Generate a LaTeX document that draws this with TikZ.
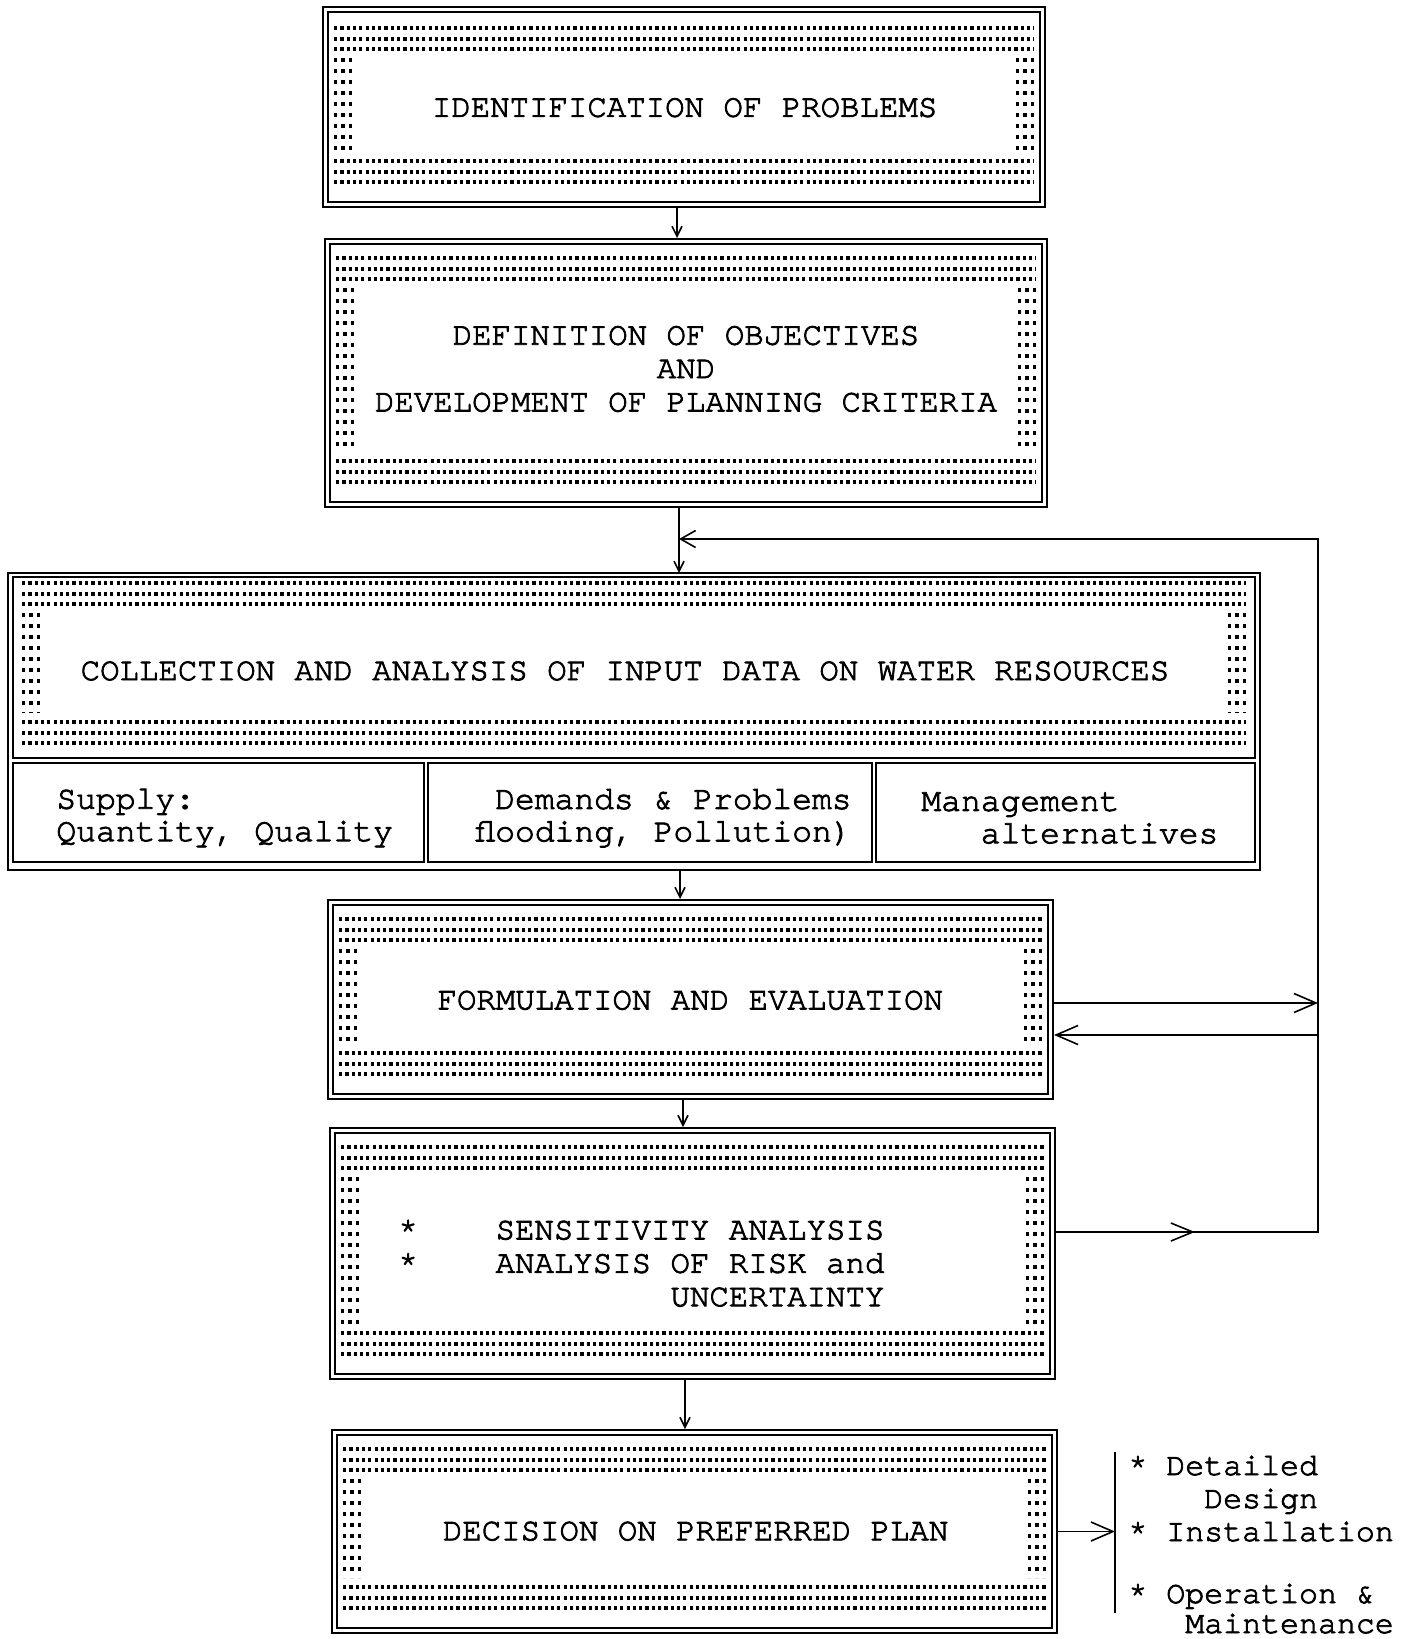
\documentclass[tikz,border=0pt]{standalone}
\usepackage{fontspec}
\newfontfamily\twfont{texgyrecursor}[Extension=.otf, UprightFont=*-regular, BoldFont=*-bold, FakeBold=2.5]
\usetikzlibrary{arrows.meta,calc,decorations.markings}

% three rows and three columns of typed dots lining the inside of a box
\newcommand\dotframe[4]{%
  \foreach \k in {0,1,2}{%
    \draw[dotrow] ($(#1.north west)+(#4,#2+10.5*\k)$) -- ($(#1.north east)+(-#4,#2+10.5*\k)$);
    \draw[dotrow] ($(#1.south west)+(#4,-#3-10.5*\k)$) -- ($(#1.south east)+(-#4,-#3-10.5*\k)$);
    \draw[dotcol] ($(#1.north west)+(#4+1.6+7.5*\k,#2+30)$) -- ($(#1.south west)+(#4+1.6+7.5*\k,-#3-30)$);
    \draw[dotcol] ($(#1.north east)+(-#4-1.6-7.5*\k,#2+30)$) -- ($(#1.south east)+(-#4-1.6-7.5*\k,-#3-30)$);
  }}

\begin{document}
\begin{tikzpicture}[x=0.5pt, y=-0.5pt,
  dbox/.style={draw, double, line width=0.9pt, double distance=1.6pt, outer sep=1.7pt, inner sep=0pt},
  sbox/.style={draw, line width=1pt, inner sep=0pt, outer sep=0pt},
  txt/.style={font=\twfont\fontsize{16.2}{16.7}\selectfont, inner sep=0pt},
  smalltxt/.style={font=\twfont\fontsize{16.5}{16.2}\selectfont, inner sep=0pt, align=left, anchor=west},
  sidetxt/.style={font=\twfont\fontsize{15.8}{16.5}\selectfont, inner sep=0pt, anchor=base west},
  dotrow/.style={line width=2pt, dash pattern=on 1.6pt off 1.55pt},
  dotcol/.style={line width=1.8pt, dash pattern=on 2pt off 3.5pt},
  conn/.style={line width=0.8pt},
  vdown/.style={conn, -{Straight Barb[length=5pt, width=5pt]}},
  fbarrow/.style={conn, -{Straight Barb[length=7.5pt, width=8.5pt]}},
  rarrow/.style={conn, -{Straight Barb[length=11pt, width=9.5pt]}},
]
\path[use as bounding box, fill=white] (0,0) rectangle (1410,1639);

% boxes
\node[dbox, minimum width=358.6pt, minimum height=97.6pt] (ident) at (684,107) {};
\node[dbox, minimum width=358.6pt, minimum height=131.6pt] (defin) at (686,373) {};
\node[sbox, minimum width=626pt, minimum height=148.5pt] (frame) at (634,721.5) {};
\node[sbox, minimum width=621pt, minimum height=90.5pt] (collect) at (634,667.5) {};
\node[sbox, minimum width=205.5pt, minimum height=49.5pt] (supply) at (218.5,812.5) {};
\node[sbox, minimum width=222pt, minimum height=49.5pt] (demand) at (650,812.5) {};
\node[sbox, minimum width=189.5pt, minimum height=49.5pt] (manage) at (1065.5,812.5) {};
\node[dbox, minimum width=360.1pt, minimum height=97.1pt] (form) at (690.5,999.5) {};
\node[dbox, minimum width=360.1pt, minimum height=123.1pt] (sens) at (692.5,1253.5) {};
\node[dbox, minimum width=360.1pt, minimum height=99.1pt] (dec) at (694.5,1531.5) {};

\dotframe{ident}{22}{26}{12}
\dotframe{defin}{20}{26}{12}
\dotframe{collect}{6}{15}{9}
\dotframe{form}{20}{26}{12}
\dotframe{sens}{20}{26}{12}
\dotframe{dec}{20}{26}{12}

% texts
\node[txt] (t-ident) at (684.6,107.7) {IDENTIFICATION OF PROBLEMS};
\node[txt, align=center] (t-defin) at (686,369) {DEFINITION OF OBJECTIVES\\AND\\DEVELOPMENT OF PLANNING CRITERIA};
\node[txt] (t-collect) at (625,671) {COLLECTION AND ANALYSIS OF INPUT DATA ON WATER RESOURCES};
\node[smalltxt] (t-supply) at (56,818) {Supply:\\Quantity, Quality};
\node[smalltxt] (t-demand) at (475,818) {\phantom{0}Demands \& Problems\\flooding, Pollution)};
\node[smalltxt] (t-manage) at (921,818) {Management\\\phantom{000}alternatives};
\node[txt] (t-form) at (690.3,1000.3) {FORMULATION AND EVALUATION};
\node[txt, align=left, anchor=west] (t-sens) at (398,1263) {*\phantom{0000}SENSITIVITY ANALYSIS\\*\phantom{0000}ANALYSIS OF RISK and\\\phantom{00000000000000}UNCERTAINTY};
\node[txt] (t-dec) at (695.6,1531.2) {DECISION ON PREFERRED PLAN};

% main chain
\coordinate (a1) at ($(ident.south)+(-7,0)$);
\draw[vdown] (a1) -- (a1 |- defin.north);
\coordinate (a2) at ($(defin.south)+(-7,0)$);
\draw[vdown] (a2) -- (a2 |- frame.north);
\coordinate (a3) at ($(frame.south)+(46,0)$);
\draw[vdown] (a3) -- (a3 |- form.north);
\coordinate (a4) at ($(form.south)+(-7.5,0)$);
\draw[vdown] (a4) -- (a4 |- sens.north);
\coordinate (a5) at ($(sens.south)+(-7.5,0)$);
\draw[vdown] (a5) -- (a5 |- dec.north);

% feedback loop on the right
\coordinate (fbtop) at (1318,539);
\coordinate (fbjoin) at (a2 |- fbtop);
\coordinate (s1) at ($(sens.east)+(0,-21.5)$);
\draw[fbarrow, line cap=rect] (s1 -| fbtop) -- (fbtop) -- (fbjoin);
\draw[conn, postaction={decorate, decoration={markings, mark=at position 69.5pt with {\arrow{Straight Barb[length=11pt, width=9pt]}}}}] (s1) -- (s1 -| fbtop);
\coordinate (f1) at ($(form.east)+(0,3.5)$);
\coordinate (f2) at ($(form.east)+(0,35.5)$);
\draw[rarrow] (f1) -- (f1 -| fbtop);
\draw[rarrow] (f2 -| fbtop) -- (f2);

% follow-up stages
\coordinate (brtop) at (1115,1452);
\coordinate (brbot) at (1115,1613);
\draw[conn] (brtop) -- (brbot);
\draw[rarrow] (dec.east) -- (dec.east -| brtop);
\node[sidetxt] (d1) at (1128,1475) {* Detailed};
\node[sidetxt] (d2) at (1128,1508) {\phantom{0000}Design};
\node[sidetxt] (d3) at (1128,1541) {* Installation};
\node[sidetxt] (d4) at (1128,1603) {* Operation \&};
\node[sidetxt] (d5) at (1128,1633) {\phantom{000}Maintenance};
\end{tikzpicture}
\end{document}
